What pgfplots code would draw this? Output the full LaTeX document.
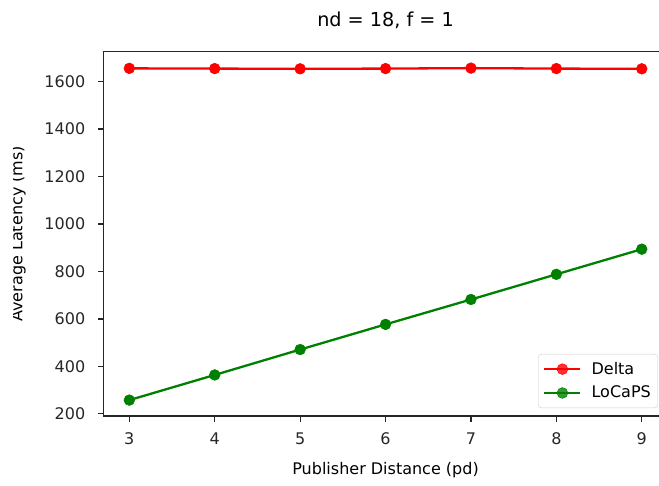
\documentclass[border=0pt]{standalone}
\usepackage{pgfplots}
\pgfplotsset{compat=1.18}
\usepackage{fontspec}
\setmainfont{DejaVu Sans}
\definecolor{mplgreen}{RGB}{0,128,0}
\definecolor{mplred}{RGB}{255,0,0}
\begin{document}
\fontsize{16}{19.2}\selectfont
\begin{tikzpicture}
\useasboundingbox (-103.7pt,-69pt) rectangle (555.3pt,416pt);
\clip (-89.7pt,-69pt) rectangle (555.3pt,416pt);
\begin{axis}[
  at={(0pt,0pt)}, anchor=south west,
  scale only axis, width=563.7pt, height=364.5pt,
  xmin=2.7, xmax=9.3, ymin=191, ymax=1727,
  xtick={3,4,5,6,7,8,9}, ytick={200,400,600,800,1000,1200,1400,1600},
  xtick pos=bottom, ytick pos=left,
  tick align=outside, major tick length=5.6pt,
  axis line style={line width=1.25pt, black!85},
  every tick/.style={black!85, line width=1.25pt},
  /pgf/number format/assume math mode=true,
  /pgf/number format/1000 sep={},
  tick label style={font=\fontsize{16}{19.2}\selectfont, inner sep=0pt, text=black!85},
  yticklabel style={xshift=-12.7pt},
  xticklabel style={yshift=-11pt},
  every axis title/.style={at={(axis description cs:0.5,1)}, anchor=base, yshift=24.8pt, font=\fontsize{19.2}{23}\selectfont},
  every axis x label/.style={at={(axis description cs:0.5,0)}, anchor=base, yshift=-58.3pt, font=\fontsize{16}{19.2}\selectfont},
  every axis y label/.style={at={(axis description cs:0,0.5)}, xshift=-81.2pt, rotate=90, anchor=base, font=\fontsize{16}{19.2}\selectfont},
  title={nd = 18, f = 1},
  xlabel={Publisher Distance (pd)},
  ylabel={Average Latency (ms)},
  legend style={at={(axis description cs:1,0)}, anchor=south east, xshift=-9.4pt, yshift=8pt,
    draw=black!20, rounded corners=3pt, fill=white, fill opacity=0.8, text opacity=1,
    inner xsep=5pt, inner ysep=5.7pt, row sep=5.4pt, column sep=8pt,
    font=\fontsize{16}{19.2}\selectfont,
    nodes={inner sep=2pt, text depth=0.15em}},
  legend cell align=left,
  legend image code/.code={\draw[mark repeat=2, mark phase=2, #1] plot coordinates {(0pt,0pt) (18pt,0pt) (36pt,0pt)};},
]
\addplot[mplred, line width=2.3pt, mark=*, mark size=5.4pt, mark options={solid, line width=0.5pt}] coordinates {
  (3,1656) (4,1655) (5,1654) (6,1655) (7,1657) (8,1655) (9,1654)
};
\addlegendentry{Delta}
\addplot[mplgreen, line width=2.3pt, mark=*, mark size=5.4pt, mark options={solid, line width=0.5pt}] coordinates {
  (3,258) (4,364) (5,471) (6,577) (7,682) (8,788) (9,894)
};
\addlegendentry{LoCaPS}
\end{axis}
\end{tikzpicture}
\end{document}
